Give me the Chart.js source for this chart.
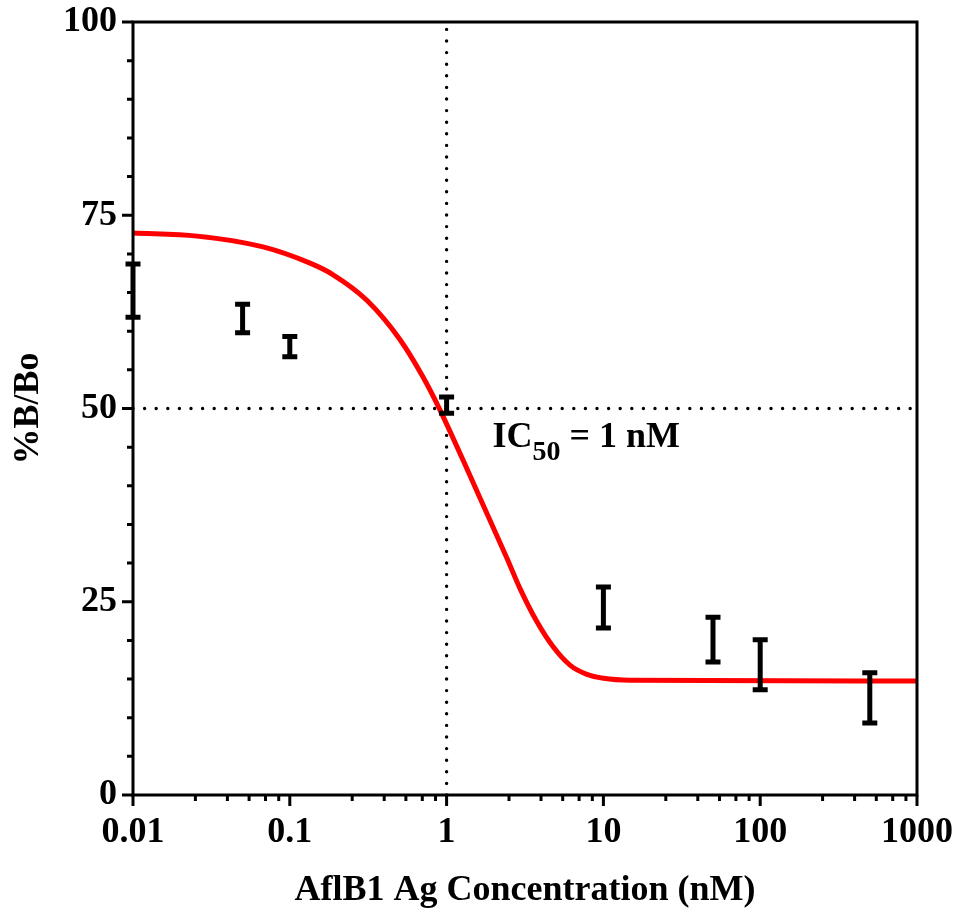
<!DOCTYPE html>
<html>
<head>
<meta charset="utf-8">
<script src="https://cdn.jsdelivr.net/npm/chart.js@4.4.1/dist/chart.umd.min.js"></script>
<style>
    html, body { margin: 0; padding: 0; background: #fff; }
    #wrap { width: 961px; height: 916px; position: relative; }
</style>
</head>
<body>
<div id="wrap"><canvas id="chart"></canvas></div>
<script>
// fitted curve
const curveX = [0.01, 0.0256, 0.0675, 0.1346, 0.189, 0.310, 0.505, 0.706, 0.908, 1.47, 2.43, 2.94, 3.77, 4.77, 6.12, 7.85, 10, 14.8, 1000];
const curveY = [72.7, 72.3, 70.9, 68.8, 67.3, 64.0, 58.9, 54.1, 49.8, 40.5, 30.6, 26.7, 22.4, 19.2, 16.8, 15.6, 15.1, 14.85, 14.75];

// measured points (error bars only)
const pointX    = [0.01, 0.05, 0.1, 1, 10, 50, 100, 500];
const pointLow  = [61.8, 59.8, 56.7, 49.4, 21.6, 17.2, 13.6, 9.3];
const pointHigh = [68.7, 63.5, 59.3, 51.5, 26.9, 23.0, 20.1, 15.8];

// axes
const xMajorTicks = [0.01, 0.1, 1, 10, 100, 1000];
const xTickLabels = ['0.01', '0.1', '1', '10', '100', '1000'];
const xMinorSteps = [2.5, 4, 5.5, 7, 8.5];
const yMajorTicks = [0, 25, 50, 75, 100];
const yMinorTicks = [5, 10, 15, 20, 30, 35, 40, 45, 55, 60, 65, 70, 80, 85, 90, 95];

// IC50 guide lines and label
const ic50 = 1;
const ic50Level = 50;
const ic50Text = { main: 'IC', sub: '50', rest: ' = 1 nM' };
const ic50TextAt = { x: 1.96, y: 45.0 };

const FONT = '"Liberation Serif", "Times New Roman", serif';

const decorPlugin = {
    id: 'decor',
    beforeDatasetsDraw(chart) {
        const { ctx, scales: { x, y } } = chart;
        ctx.save();
        ctx.strokeStyle = '#000';
        ctx.lineWidth = 3.4;
        ctx.lineCap = 'round';
        ctx.setLineDash([0, 11.6]);

        // dotted lines at IC50
        const px = x.getPixelForValue(ic50);
        ctx.beginPath();
        ctx.moveTo(px, y.getPixelForValue(0));
        ctx.lineTo(px, y.getPixelForValue(100));
        ctx.stroke();

        const py = y.getPixelForValue(ic50Level);
        ctx.beginPath();
        ctx.moveTo(x.getPixelForValue(xMajorTicks[0]), py);
        ctx.lineTo(x.getPixelForValue(xMajorTicks[xMajorTicks.length - 1]), py);
        ctx.stroke();
        ctx.restore();
    },
    afterDatasetsDraw(chart) {
        const { ctx, chartArea: a, scales: { x, y } } = chart;
        ctx.save();
        ctx.strokeStyle = '#000';
        ctx.fillStyle = '#000';
        ctx.lineCap = 'butt';

        // frame
        ctx.lineWidth = 3;
        ctx.strokeRect(a.left, a.top, a.right - a.left, a.bottom - a.top);

        // y ticks
        ctx.beginPath();
        yMajorTicks.forEach(v => {
            const p = y.getPixelForValue(v);
            ctx.moveTo(a.left - 11, p);
            ctx.lineTo(a.left, p);
        });
        yMinorTicks.forEach(v => {
            const p = y.getPixelForValue(v);
            ctx.moveTo(a.left - 6, p);
            ctx.lineTo(a.left, p);
        });
        // x ticks
        xMajorTicks.forEach((v, i) => {
            const p = x.getPixelForValue(v);
            ctx.moveTo(p, a.bottom);
            ctx.lineTo(p, a.bottom + 11);
            if (i < xMajorTicks.length - 1) {
                xMinorSteps.forEach(s => {
                    const q = x.getPixelForValue(v * s);
                    ctx.moveTo(q, a.bottom);
                    ctx.lineTo(q, a.bottom + 6);
                });
            }
        });
        ctx.stroke();

        // error bars
        pointX.forEach((v, i) => {
            const px = x.getPixelForValue(v);
            const lo = y.getPixelForValue(pointLow[i]);
            const hi = y.getPixelForValue(pointHigh[i]);
            ctx.lineWidth = 5;
            ctx.beginPath();
            ctx.moveTo(px, lo);
            ctx.lineTo(px, hi);
            ctx.moveTo(px - 7.5, lo);
            ctx.lineTo(px + 7.5, lo);
            ctx.moveTo(px - 7.5, hi);
            ctx.lineTo(px + 7.5, hi);
            ctx.stroke();
        });

        // IC50 label
        let tx = x.getPixelForValue(ic50TextAt.x);
        const ty = y.getPixelForValue(ic50TextAt.y);
        ctx.textBaseline = 'alphabetic';
        ctx.textAlign = 'left';
        ctx.font = 'bold 36px ' + FONT;
        ctx.fillText(ic50Text.main, tx, ty);
        tx += ctx.measureText(ic50Text.main).width;
        ctx.font = 'bold 28px ' + FONT;
        ctx.fillText(ic50Text.sub, tx, ty + 13);
        tx += ctx.measureText(ic50Text.sub).width;
        ctx.font = 'bold 36px ' + FONT;
        ctx.fillText(ic50Text.rest, tx, ty);

        ctx.restore();
    }
};

new Chart(document.getElementById('chart'), {
    type: 'line',
    data: {
        datasets: [{
            label: 'fit',
            data: curveX.map((v, i) => ({ x: v, y: curveY[i] })),
            borderColor: '#ff0000',
            borderWidth: 5,
            pointRadius: 0,
            cubicInterpolationMode: 'monotone',
            fill: false
        }]
    },
    options: {
        responsive: true,
        maintainAspectRatio: false,
        animation: false,
        layout: { padding: { top: 22, right: 44, bottom: 0, left: 0 } },
        plugins: {
            legend: { display: false },
            tooltip: { enabled: false }
        },
        scales: {
            x: {
                type: 'logarithmic',
                min: 0.01,
                max: 1000,
                grid: { display: false, drawTicks: true, tickLength: 11 },
                border: { display: false },
                afterBuildTicks: scale => {
                    scale.ticks = xMajorTicks.map(v => ({ value: v }));
                },
                afterFit: scale => {
                    scale.height = 121;
                    scale.paddingLeft = 0;
                    scale.paddingRight = 0;
                },
                ticks: {
                    autoSkip: false,
                    maxRotation: 0,
                    padding: 5,
                    color: '#000',
                    font: { family: FONT, size: 36, weight: 'bold' },
                    callback: (v, i) => xTickLabels[i]
                },
                title: {
                    display: true,
                    text: 'AflB1 Ag Concentration (nM)',
                    color: '#000',
                    font: { family: FONT, size: 36, weight: 'bold' },
                    padding: { top: 0, bottom: 4 }
                }
            },
            y: {
                min: 0,
                max: 100,
                grid: { display: false, drawTicks: true, tickLength: 11 },
                border: { display: false },
                afterBuildTicks: scale => {
                    scale.ticks = yMajorTicks.map(v => ({ value: v }));
                },
                afterFit: scale => {
                    scale.width = 133;
                    scale.paddingTop = 0;
                    scale.paddingBottom = 0;
                },
                ticks: {
                    padding: 5,
                    color: '#000',
                    font: { family: FONT, size: 36, weight: 'bold' }
                },
                title: {
                    display: true,
                    text: '%B/Bo',
                    color: '#000',
                    font: { family: FONT, size: 36, weight: 'bold' },
                    padding: { top: 7, bottom: 0 }
                }
            }
        }
    },
    plugins: [decorPlugin]
});
</script>
</body>
</html>
